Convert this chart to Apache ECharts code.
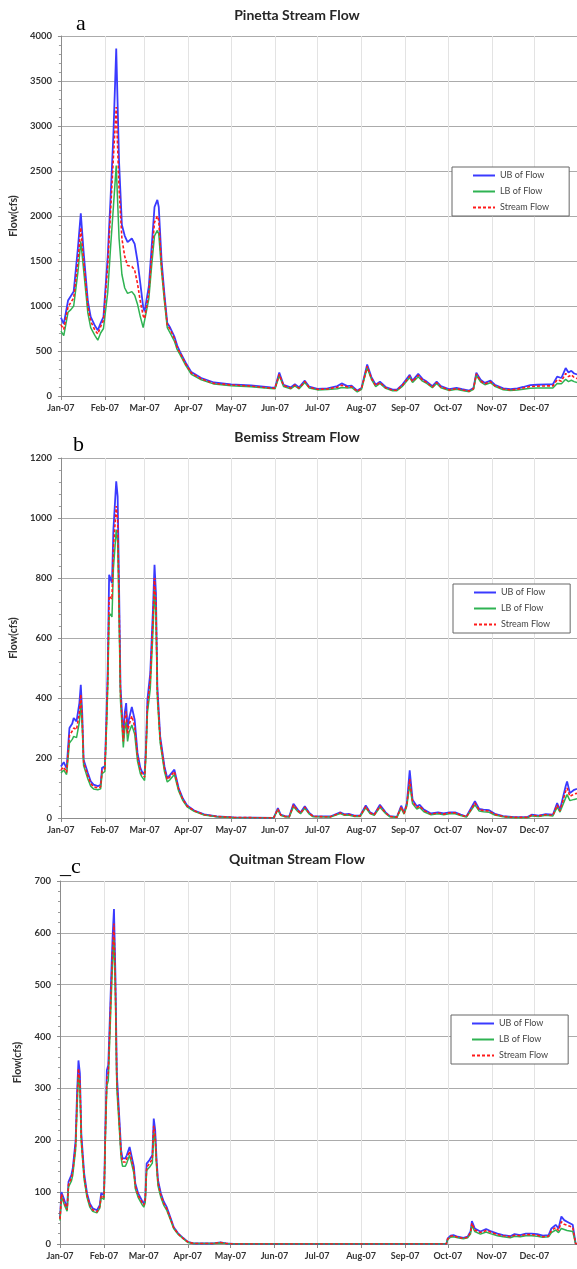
<!DOCTYPE html>
<html><head><meta charset="utf-8">
<script src="https://cdn.jsdelivr.net/npm/echarts@6/dist/echarts.min.js"></script>
<style>html,body{margin:0;padding:0;background:#fff}#c{width:577px;height:1269px}</style>
</head><body><div id="c"></div><script>
// ---------- data (day offsets from 1 Jan 2007, flows in cfs) ----------
const MONTHS = ['Jan','Feb','Mar','Apr','May','Jun','Jul','Aug','Sep','Oct','Nov','Dec'];
const seriesNames = ['UB of Flow','LB of Flow','Stream Flow'];
const titles = ['Pinetta Stream Flow','Bemiss Stream Flow','Quitman Stream Flow'];
const panelLetters = ['a','b','_c'];
const yMaxes = [4000,1200,700];
const ySteps = [500,200,100];

// Pinetta
const aDays = [0,2,5,7,9,12,14,16,19,21,24,26,28,30,33,35,37,39,41,43,45,47,50,52,54,56,58,59,62,64,66,68,69,71,73,75,77,80,82,84,88,92,99,108,120,134,148,151,154,157,162,165,168,172,175,181,188,195,198,202,205,209,212,216,219,222,225,229,234,237,241,246,248,252,255,258,262,265,268,274,279,283,288,291,293,296,299,303,306,312,317,322,326,331,336,343,347,350,353,356,358,360,362,364];
const aUB = [870,800,1060,1110,1160,1650,2030,1600,1050,880,780,730,810,880,1550,2200,2900,3860,2600,1900,1780,1710,1750,1690,1500,1250,990,940,1220,1660,2100,2180,2100,1500,1130,810,760,660,560,490,370,265,200,150,130,118,95,92,260,125,95,130,95,170,105,80,85,110,140,110,115,60,90,350,210,125,160,100,70,70,130,235,170,245,190,160,110,160,110,75,90,75,60,90,260,180,145,170,125,85,75,85,100,120,125,130,130,215,200,310,260,280,250,240];
const aLB = [720,670,930,960,1000,1380,1720,1400,920,760,670,620,700,750,1150,1650,2100,2560,1750,1350,1200,1140,1160,1120,1020,880,760,740,1080,1450,1780,1840,1800,1380,1050,760,700,610,515,460,340,240,180,132,115,104,82,80,225,105,80,112,80,150,90,68,72,80,95,88,95,45,75,315,185,105,140,85,58,58,110,205,150,215,165,140,92,140,92,62,75,62,48,75,230,158,125,148,108,70,62,68,75,85,88,90,90,140,135,185,160,175,160,150];
const aSF = [790,740,990,1040,1090,1500,1870,1500,990,830,730,690,770,840,1450,2050,2650,3210,2300,1750,1550,1450,1440,1400,1250,1050,890,860,1150,1560,1930,2000,1950,1430,1090,790,740,640,540,480,355,255,190,140,123,110,88,86,240,115,88,120,88,160,97,74,78,98,120,100,105,52,82,330,195,115,150,92,64,64,120,220,160,230,178,150,100,150,100,68,82,68,54,82,245,168,135,158,115,78,68,76,88,105,110,112,112,180,165,250,215,235,205,195];

// Bemiss
const bDays = [0,2,4,5,6,8,9,11,13,14,15,16,19,21,23,26,28,29,31,32,33,34,35,36,37,39,40,41,42,44,45,46,47,48,50,52,54,56,57,59,60,61,63,65,66,67,68,70,73,75,77,80,83,86,89,94,101,110,122,150,153,155,158,161,164,167,169,172,175,178,190,197,200,203,207,211,215,218,221,225,229,232,237,240,242,244,246,248,251,253,256,261,266,270,274,278,282,286,292,295,298,302,306,312,320,329,332,337,342,347,350,352,356,357,359,362,364];
const bUB = [172,186,165,161,300,315,333,322,383,444,350,194,150,122,111,106,111,167,172,320,494,811,806,783,960,1122,1072,770,439,272,350,383,294,330,370,328,217,167,156,144,239,394,483,706,844,750,439,272,172,133,144,161,100,65,42,25,12,5,2,0,33,11,6,5,47,28,18,39,18,6,5,19,12,14,8,8,42,19,12,44,19,6,4,41,17,50,159,61,39,44,28,15,19,15,19,19,11,5,56,30,28,26,14,6,3,3,11,8,13,11,50,28,106,122,83,94,97];
const bLB = [150,160,145,142,250,262,272,268,320,383,305,175,130,106,97,94,97,148,155,280,430,672,680,670,830,961,920,670,390,235,295,320,255,285,310,280,190,148,138,125,210,350,430,630,760,680,400,250,155,120,128,145,90,58,37,22,10,4,1,0,27,9,4,3,38,22,14,32,14,4,3,15,9,10,5,5,34,15,9,36,15,4,2,33,13,40,111,48,30,35,21,11,14,11,14,14,8,3,44,23,21,19,10,4,1,1,7,5,9,7,36,20,67,78,58,62,64];
const bSF = [160,170,152,150,275,290,300,295,350,412,330,185,140,115,104,100,104,158,165,300,460,740,742,730,900,1040,990,720,415,255,330,355,280,310,340,305,205,158,148,136,225,375,460,670,800,715,420,262,165,128,138,155,96,62,40,24,11,5,2,0,30,10,5,4,43,25,16,36,16,5,4,17,11,12,7,7,38,17,11,40,17,5,3,37,15,45,130,55,35,40,25,13,17,13,17,17,10,4,50,27,25,23,12,5,2,2,9,7,11,9,43,24,89,100,72,80,82];

// Quitman
const cDays = [0,1,3,5,6,8,9,11,12,13,14,15,17,19,21,23,26,28,29,31,32,33,34,36,37,38,39,40,42,43,44,46,47,49,50,52,53,55,58,59,60,61,63,65,66,67,68,69,71,73,75,78,80,83,87,90,94,100,108,113,117,122,150,200,250,272,273,275,277,280,284,287,289,290,292,296,300,303,308,312,317,320,324,328,332,336,340,344,346,349,351,353,355,357,359,361,363,364];
const cUB = [50,100,85,69,120,133,146,200,290,354,329,213,136,98,78,69,65,75,98,94,230,335,345,510,590,646,521,329,232,181,165,165,171,187,184,149,117,98,82,78,88,155,162,171,242,220,162,123,98,82,72,49,33,21,11,4,1,1,1,3,1,0,0,0,0,0,11,16,17,14,12,14,24,44,30,24,29,25,20,17,15,19,17,20,20,19,16,17,30,37,30,53,46,43,40,37,1,0];
const cLB = [45,92,76,63,110,121,133,182,262,325,302,195,124,90,71,63,60,69,90,86,210,305,315,470,540,590,478,300,212,166,150,150,156,171,168,137,107,90,75,71,80,142,148,156,215,200,148,112,90,75,66,45,30,19,10,3,1,1,1,2,1,0,0,0,0,0,9,13,14,12,10,12,19,36,24,19,23,20,16,14,12,15,14,16,16,15,13,14,22,27,22,30,28,26,25,24,1,0];
const cSF = [48,96,80,66,115,127,140,190,275,338,315,203,130,94,75,66,62,72,94,90,220,320,330,490,565,618,500,315,222,174,158,158,164,179,176,143,112,94,79,75,84,148,155,164,228,210,155,118,94,79,69,47,32,20,10,4,1,1,1,3,1,0,0,0,0,0,10,15,16,13,11,13,22,40,27,22,26,23,18,16,14,17,16,18,18,17,14,15,26,32,26,43,38,36,34,32,1,0];

// ---------- layout / style ----------
const panels = [
  {days:aDays, ub:aUB, lb:aLB, sf:aSF},
  {days:bDays, ub:bUB, lb:bLB, sf:bSF},
  {days:cDays, ub:cUB, lb:cLB, sf:cSF}
];
const gridBoxes = [
  {left:60, right:0, top:36, height:360},
  {left:60, right:0, top:458, height:360},
  {left:60, right:0, top:881, height:363}
];
const titleTops = [8, 430, 852];
const letterPos = [{left:76, top:13}, {left:73, top:434}, {left:60, top:856}];
const legendPos = [{left:452, top:167}, {left:453, top:584}, {left:451, top:1015}];
const COLORS = {ub:'#3a3aff', lb:'#2fb352', sf:'#ff1a1a'};
const FONT = 'Lato';

function toTime(d){ return new Date(2007, 0, 1 + d).getTime(); }
function pairs(days, vals){ return days.map((d, i) => [toTime(d), vals[i]]); }

const option = {
  animation:false,
  backgroundColor:'#fff',
  title:[], legend:[], grid:[], xAxis:[], yAxis:[], series:[]
};

panels.forEach((p, i) => {
  option.title.push({text:titles[i], left:297, top:titleTops[i], textAlign:'center', padding:0,
    textStyle:{fontFamily:FONT, fontSize:14, fontWeight:'bold', color:'#262626'}});
  option.title.push({text:panelLetters[i], left:letterPos[i].left, top:letterPos[i].top, padding:0,
    textStyle:{fontFamily:'Liberation Serif', fontSize:22, fontWeight:'normal', color:'#000'}});
  option.grid.push(Object.assign({containLabel:false}, gridBoxes[i]));
  option.xAxis.push({
    type:'time', gridIndex:i, min:toTime(0), max:toTime(364), splitNumber:12,
    axisLine:{show:true, lineStyle:{color:'#8c8c8c', width:1}},
    axisTick:{show:true, length:4, lineStyle:{color:'#8c8c8c'}},
    axisLabel:{fontFamily:FONT, fontSize:9, fontWeight:'bold', color:'#333', margin:8,
      formatter:function(v){ const d = new Date(v); return d.getDate() === 1 ? MONTHS[d.getMonth()] + '-07' : ''; }},
    splitLine:{show:true, lineStyle:{color:'#e3e3e3', width:1}}
  });
  option.yAxis.push({
    type:'value', gridIndex:i, min:0, max:yMaxes[i], interval:ySteps[i],
    name:'Flow(cfs)', nameLocation:'middle', nameGap:36,
    nameTextStyle:{fontFamily:FONT, fontSize:10.5, fontWeight:'bold', color:'#333'},
    axisLine:{show:true, lineStyle:{color:'#8c8c8c'}},
    axisTick:{show:true, length:3, lineStyle:{color:'#8c8c8c'}},
    minorTick:{show:true, splitNumber:5, length:2, lineStyle:{color:'#9a9a9a'}},
    axisLabel:{fontFamily:FONT, fontSize:9.5, fontWeight:'bold', color:'#333', margin:9,
      formatter:function(v){ return String(v); }},
    splitLine:{show:true, lineStyle:{color:'#ababab', width:1}}
  });
  option.legend.push({
    orient:'vertical', left:legendPos[i].left, top:legendPos[i].top,
    data:seriesNames, padding:[4,20,4,20], itemWidth:22, itemHeight:8, itemGap:7,
    itemStyle:{opacity:0},
    borderColor:'#666', borderWidth:1, backgroundColor:'#fff',
    textStyle:{fontFamily:FONT, fontSize:9, color:'#444'}, selectedMode:false
  });
  const defs = [
    {name:seriesNames[0], vals:p.ub, color:COLORS.ub, width:1.8, type:'solid'},
    {name:seriesNames[1], vals:p.lb, color:COLORS.lb, width:1.5, type:'solid'},
    {name:seriesNames[2], vals:p.sf, color:COLORS.sf, width:1.6, type:[3,2]}
  ];
  defs.forEach(d => option.series.push({
    type:'line', name:d.name, xAxisIndex:i, yAxisIndex:i,
    data:pairs(p.days, d.vals), showSymbol:false, symbol:'none',
    itemStyle:{color:d.color}, lineStyle:{color:d.color, width:d.width, type:d.type}
  }));
});

const chart = echarts.init(document.getElementById('c'), null, {renderer:'canvas'});
chart.setOption(option);
</script></body></html>
